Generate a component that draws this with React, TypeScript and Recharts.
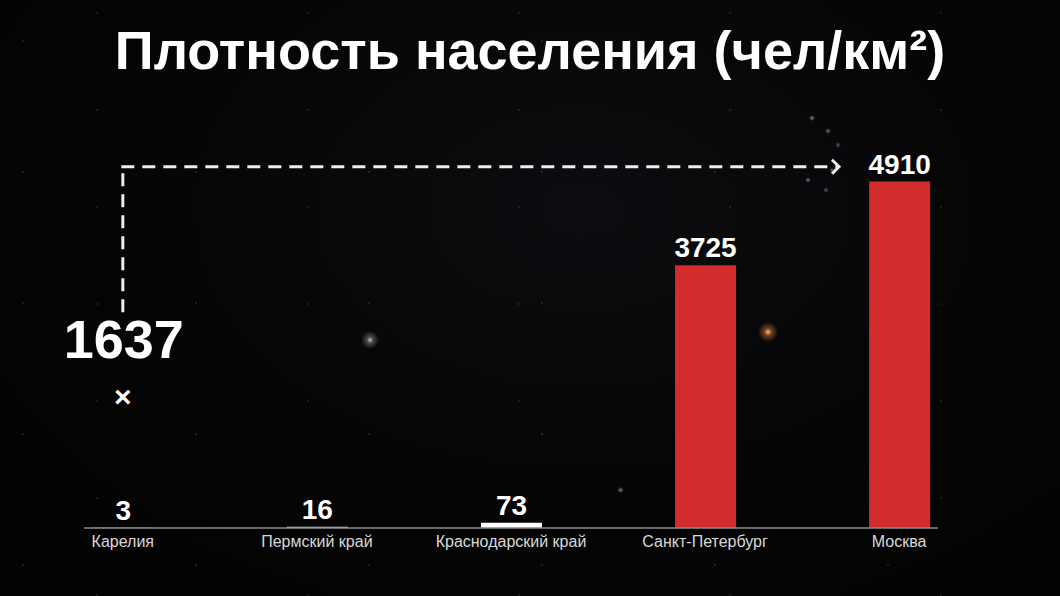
import React from 'react';
import { BarChart, Bar, XAxis, YAxis, Cell, LabelList, ReferenceLine, ReferenceDot } from 'recharts';

// ---- data ----
const categories = ['Карелия', 'Пермский край', 'Краснодарский край', 'Санкт-Петербург', 'Москва'];
const densities = [3, 16, 73, 3725, 4910];
const titleText = 'Плотность населения (чел/км²)';
const ratioText = '1637';
// annotation anchors in data space (x = category index, y = density units)
const ratioAnchor = { x: 0, y: 1860 };
const arrowRise = { x: 0, yFrom: 3060, yTo: 5120 };
const arrowRun = { xFrom: 0, xTo: 3.69, y: 5120 };

const barColors = ['#ffffff', '#d8d8d8', '#ffffff', '#d42c2c', '#d42c2c'];

const data = categories.map((name, i) => ({ x: i, name, value: densities[i] }));

const FONT = '"Liberation Sans", Arial, Helvetica, sans-serif';

const W = 1060;
const H = 596;

const bg = [
  'radial-gradient(circle at 370px 340px, rgba(230,230,235,0.85) 0px, rgba(200,200,210,0.35) 3px, rgba(0,0,0,0) 9px)',
  'radial-gradient(circle at 768px 332px, rgba(255,190,120,0.95) 0px, rgba(220,120,60,0.45) 4px, rgba(0,0,0,0) 10px)',
  'radial-gradient(circle at 812px 118px, rgba(200,210,230,0.6) 0px, rgba(0,0,0,0) 3px)',
  'radial-gradient(circle at 828px 131px, rgba(200,210,230,0.5) 0px, rgba(0,0,0,0) 3px)',
  'radial-gradient(circle at 838px 145px, rgba(200,210,230,0.4) 0px, rgba(0,0,0,0) 3px)',
  'radial-gradient(circle at 808px 180px, rgba(200,210,230,0.5) 0px, rgba(0,0,0,0) 3px)',
  'radial-gradient(circle at 826px 190px, rgba(200,210,230,0.4) 0px, rgba(0,0,0,0) 3px)',
  'radial-gradient(circle at 832px 170px, rgba(200,210,230,0.4) 0px, rgba(0,0,0,0) 3px)',
  'radial-gradient(circle at 621px 490px, rgba(200,210,230,0.4) 0px, rgba(0,0,0,0) 3px)',
  'radial-gradient(circle at 620px 490px, rgba(200,210,230,0.3) 0px, rgba(0,0,0,0) 3px)',
  'radial-gradient(1px 1px at 23px 41px, rgba(255,255,255,0.35), rgba(0,0,0,0))',
  'radial-gradient(1px 1px at 97px 13px, rgba(255,255,255,0.3), rgba(0,0,0,0))',
  'radial-gradient(1px 1px at 151px 77px, rgba(255,255,255,0.25), rgba(0,0,0,0))',
  'radial-gradient(ellipse at 55% 35%, #0c0d10 0%, #060607 45%, #020202 100%)',
].join(', ');

const bgSize = [
  ...Array(10).fill(`${W}px ${H}px`),
  '173px 131px',
  '211px 97px',
  '137px 163px',
  `${W}px ${H}px`,
].join(', ');

const RatioMark = (p: any) => (
  <g>
    <text x={p.cx + 1} y={p.cy - 39} textAnchor="middle" fill="#ffffff" fontSize={54} fontWeight="bold" fontFamily={FONT}>
      {ratioText}
    </text>
    <text x={p.cx} y={p.cy} textAnchor="middle" dominantBaseline="central" fill="#ffffff" fontSize={30} fontWeight="bold" fontFamily={FONT}>
      ×
    </text>
  </g>
);

const DashedSeg = (p: any) => (
  <line x1={p.x1} y1={p.y1} x2={p.x2} y2={p.y2} stroke="#eeeeee" strokeWidth={3} strokeDasharray="13 8" />
);

const DashedArrow = (p: any) => (
  <g>
    <line x1={p.x1 - 1.5} y1={p.y1} x2={p.x2} y2={p.y2} stroke="#eeeeee" strokeWidth={3} strokeDasharray="13 8" />
    <polyline
      points={`${p.x2 - 7},${p.y2 - 7} ${p.x2},${p.y2} ${p.x2 - 7},${p.y2 + 7}`}
      fill="none"
      stroke="#eeeeee"
      strokeWidth={3}
    />
  </g>
);

export default function App() {
  return (
    <div
      style={{
        position: 'absolute',
        left: 0,
        top: 0,
        width: W,
        height: H,
        backgroundColor: '#030303',
        backgroundImage: bg,
        backgroundSize: bgSize,
        overflow: 'hidden',
      }}
    >
      <div
        style={{
          position: 'absolute',
          left: 0,
          top: 18,
          width: W,
          textAlign: 'center',
          color: '#ffffff',
          fontFamily: FONT,
          fontWeight: 'bold',
          fontSize: 54,
          lineHeight: '64px',
          whiteSpace: 'nowrap',
        }}
      >
        {titleText}
      </div>
      <BarChart width={W} height={H} data={data} margin={{ top: 140, right: 122, left: 84, bottom: 28 }} style={{ position: 'absolute', left: 0, top: 0 }}>
        <XAxis
          dataKey="x"
          type="number"
          domain={[-0.2, 4.2]}
          ticks={[0, 1, 2, 3, 4]}
          interval={0}
          tickFormatter={(v: number) => categories[v]}
          axisLine={{ stroke: '#8a8a8a', strokeWidth: 1.5 }}
          tickLine={false}
          tickSize={6}
          tickMargin={2}
          height={40}
          tick={{ fill: '#d8d8d8', fontSize: 16, fontFamily: FONT }}
        />
        <YAxis hide type="number" domain={[0, 5500]} />
        <Bar dataKey="value" barSize={61} isAnimationActive={false}>
          {data.map((d, i) => (
            <Cell key={d.name} fill={barColors[i]} />
          ))}
          <LabelList dataKey="value" position="top" offset={8} fill="#ffffff" fontSize={28} fontWeight="bold" fontFamily={FONT} />
        </Bar>
        <ReferenceLine
          segment={[{ x: arrowRise.x, y: arrowRise.yFrom }, { x: arrowRise.x, y: arrowRise.yTo }]}
          shape={DashedSeg}
        />
        <ReferenceLine
          segment={[{ x: arrowRun.xFrom, y: arrowRun.y }, { x: arrowRun.xTo, y: arrowRun.y }]}
          shape={DashedArrow}
        />
        <ReferenceDot x={ratioAnchor.x} y={ratioAnchor.y} r={0} shape={RatioMark} />
      </BarChart>
    </div>
  );
}
